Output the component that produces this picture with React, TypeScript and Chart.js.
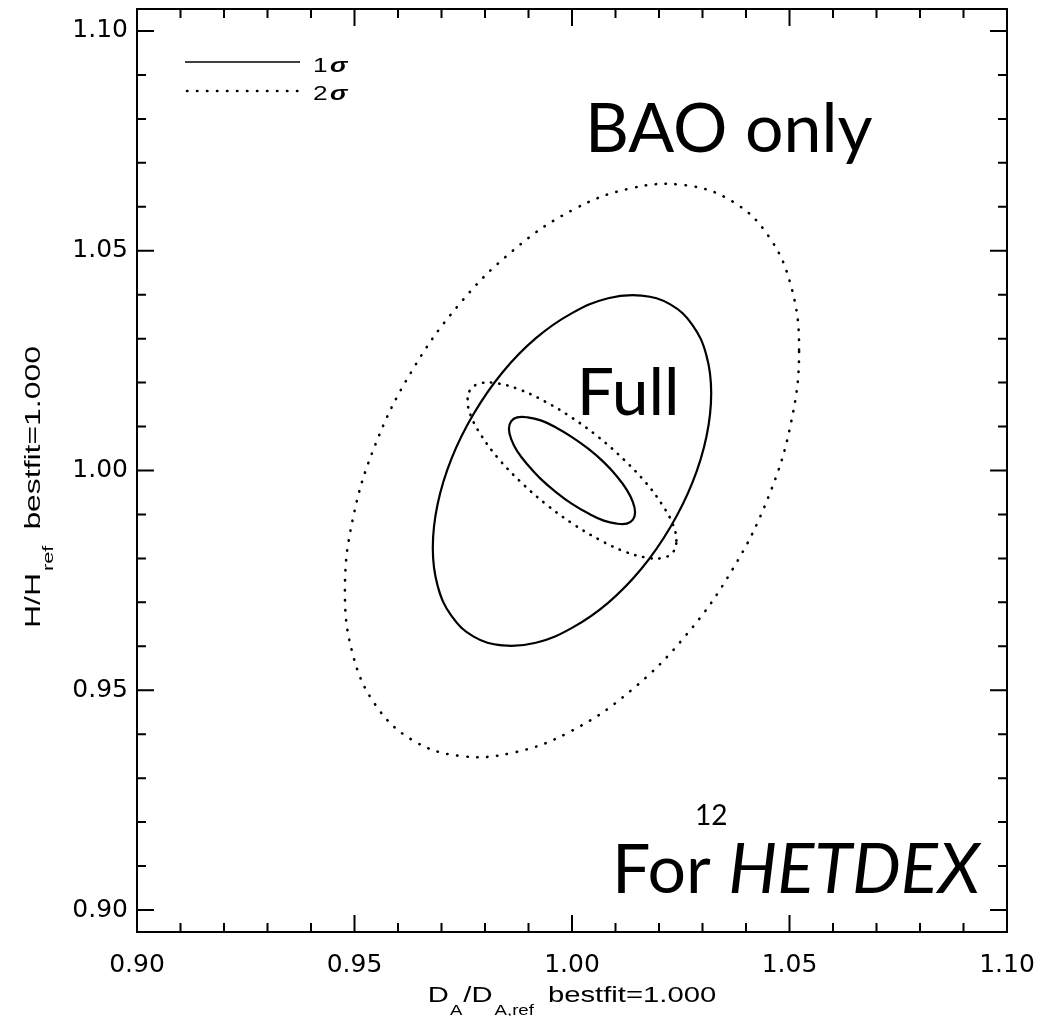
import React, { useEffect, useRef } from "react";
import { Chart, registerables } from "chart.js";

Chart.register(...registerables);

// ---- axes ----
const xRange = [0.9, 1.1];
const yRange = [0.895, 1.105];
const xTickValues = [0.9, 0.95, 1.0, 1.05, 1.1];
const yTickValues = [0.9, 0.95, 1.0, 1.05, 1.1];
const xMinorTickValues = [0.9, 0.91, 0.92, 0.93, 0.94, 0.95, 0.96, 0.97, 0.98, 0.99, 1.0, 1.01, 1.02, 1.03, 1.04, 1.05, 1.06, 1.07, 1.08, 1.09, 1.1];
const yMinorTickValues = [0.9, 0.91, 0.92, 0.93, 0.94, 0.95, 0.96, 0.97, 0.98, 0.99, 1.0, 1.01, 1.02, 1.03, 1.04, 1.05, 1.06, 1.07, 1.08, 1.09, 1.1];

// ---- contours (each is a closed loop) ----
// BAO only, 2 sigma (dotted)
const baoTwoSigmaX = [1.0522, 1.0504, 1.0452, 1.0369, 1.0261, 1.0135, 1.0000, 0.9865, 0.9739, 0.9631, 0.9548, 0.9496, 0.9478, 0.9496, 0.9548, 0.9631, 0.9739, 0.9865, 1.0000, 1.0135, 1.0261, 1.0369, 1.0452, 1.0504];
const baoTwoSigmaY = [1.0274, 1.0418, 1.0533, 1.0612, 1.0649, 1.0642, 1.0592, 1.0501, 1.0376, 1.0225, 1.0059, 0.9889, 0.9726, 0.9582, 0.9467, 0.9388, 0.9351, 0.9358, 0.9408, 0.9499, 0.9624, 0.9775, 0.9941, 1.0111];
// BAO only, 1 sigma (solid)
const baoOneSigmaX = [1.0320, 1.0309, 1.0277, 1.0226, 1.0160, 1.0083, 1.0000, 0.9917, 0.9840, 0.9774, 0.9723, 0.9691, 0.9680, 0.9691, 0.9723, 0.9774, 0.9840, 0.9917, 1.0000, 1.0083, 1.0160, 1.0226, 1.0277, 1.0309];
const baoOneSigmaY = [1.0176, 1.0262, 1.0331, 1.0378, 1.0398, 1.0392, 1.0358, 1.0301, 1.0223, 1.0129, 1.0027, 0.9923, 0.9824, 0.9738, 0.9669, 0.9622, 0.9602, 0.9608, 0.9642, 0.9699, 0.9777, 0.9871, 0.9973, 1.0077];
// Full, 2 sigma (dotted)
const fullTwoSigmaX = [1.0240, 1.0232, 1.0208, 1.0170, 1.0120, 1.0062, 1.0000, 0.9938, 0.9880, 0.9830, 0.9792, 0.9768, 0.9760, 0.9768, 0.9792, 0.9830, 0.9880, 0.9938, 1.0000, 1.0062, 1.0120, 1.0170, 1.0208, 1.0232];
const fullTwoSigmaY = [0.9840, 0.9877, 0.9921, 0.9972, 1.0024, 1.0075, 1.0120, 1.0157, 1.0184, 1.0198, 1.0199, 1.0186, 1.0160, 1.0123, 1.0079, 1.0028, 0.9976, 0.9925, 0.9880, 0.9843, 0.9816, 0.9802, 0.9801, 0.9814];
// Full, 1 sigma (solid)
const fullOneSigmaX = [1.0145, 1.0140, 1.0126, 1.0103, 1.0073, 1.0038, 1.0000, 0.9963, 0.9928, 0.9898, 0.9874, 0.9860, 0.9855, 0.9860, 0.9874, 0.9898, 0.9928, 0.9963, 1.0000, 1.0038, 1.0073, 1.0103, 1.0126, 1.0140];
const fullOneSigmaY = [0.9905, 0.9928, 0.9956, 0.9987, 1.0019, 1.0049, 1.0076, 1.0098, 1.0114, 1.0121, 1.0121, 1.0112, 1.0095, 1.0072, 1.0044, 1.0013, 0.9981, 0.9951, 0.9924, 0.9902, 0.9886, 0.9879, 0.9879, 0.9888];

// ---- text ----
const legendNumbers = ["1", "2"];
const legendSymbol = "σ";
const labelBao = "BAO only";
const labelFull = "Full";
const labelFor = "For ";
const labelSurvey = "HETDEX";
const labelPage = "12";

type Piece = { text: string; font: string; dy: number };

function drawPieces(ctx: CanvasRenderingContext2D, pieces: Piece[], cx: number, baseY: number, stretch: number, gaps: number[]) {
  let total = 0;
  const widths = pieces.map((p, i) => {
    ctx.font = p.font;
    const w = ctx.measureText(p.text).width * stretch;
    total += w + (gaps[i] || 0);
    return w;
  });
  let x = cx - total / 2;
  pieces.forEach((p, i) => {
    ctx.save();
    ctx.font = p.font;
    ctx.translate(x, baseY + p.dy);
    ctx.scale(stretch, 1);
    ctx.fillText(p.text, 0, 0);
    ctx.restore();
    x += widths[i] + (gaps[i] || 0);
  });
}

// close every contour into a smooth loop
const loopPlugin = {
  id: "closedContours",
  afterDatasetsUpdate(chart: any) {
    chart.data.datasets.forEach((_: any, i: number) => {
      const line = chart.getDatasetMeta(i).dataset;
      if (line) {
        line._loop = true;
        line.points = line.points;
      }
    });
  },
};

const decorPlugin = {
  id: "decor",
  afterDraw(chart: any) {
    const { ctx, chartArea: a, scales } = chart;
    const xs = scales.x;
    const ys = scales.y;
    const isMajor = (v: number, list: number[]) => list.some((m) => Math.abs(m - v) < 1e-6);
    ctx.save();
    ctx.strokeStyle = "#000";
    ctx.fillStyle = "#000";
    ctx.lineWidth = 2;
    ctx.strokeRect(a.left, a.top, a.right - a.left, a.bottom - a.top);
    ctx.beginPath();
    for (const v of xMinorTickValues) {
      const p = xs.getPixelForValue(v);
      const len = isMajor(v, xTickValues) ? 17 : 9;
      ctx.moveTo(p, a.bottom);
      ctx.lineTo(p, a.bottom - len);
      ctx.moveTo(p, a.top);
      ctx.lineTo(p, a.top + len);
    }
    for (const v of yMinorTickValues) {
      const p = ys.getPixelForValue(v);
      const len = isMajor(v, yTickValues) ? 17 : 9;
      ctx.moveTo(a.left, p);
      ctx.lineTo(a.left + len, p);
      ctx.moveTo(a.right, p);
      ctx.lineTo(a.right - len, p);
    }
    ctx.stroke();

    // legend
    const lx0 = a.left + 48;
    const lx1 = a.left + 163;
    ctx.lineWidth = 1.3;
    ctx.beginPath();
    ctx.moveTo(lx0, a.top + 53);
    ctx.lineTo(lx1, a.top + 53);
    ctx.stroke();
    ctx.save();
    ctx.lineWidth = 2.6;
    ctx.lineCap = "round";
    ctx.setLineDash([0.4, 9.6]);
    ctx.beginPath();
    ctx.moveTo(lx0 + 2, a.top + 82);
    ctx.lineTo(lx1, a.top + 82);
    ctx.stroke();
    ctx.restore();
    ctx.textAlign = "left";
    ctx.textBaseline = "alphabetic";
    legendNumbers.forEach((n, i) => {
      const by = a.top + 63 + i * 28;
      ctx.save();
      ctx.translate(a.left + 176, by);
      ctx.scale(1.25, 1);
      ctx.font = '21px "Liberation Sans"';
      ctx.fillText(n, 0, 0);
      const w = ctx.measureText(n).width;
      ctx.font = 'italic bold 21px "Liberation Sans"';
      ctx.fillText(legendSymbol, w + 2, 0);
      ctx.restore();
    });

    // annotations
    ctx.font = "68px Lato";
    ctx.fillText(labelBao, xs.getPixelForValue(1.003), ys.getPixelForValue(1.0725));
    ctx.font = "66px Lato";
    ctx.fillText(labelFull, xs.getPixelForValue(1.0011), ys.getPixelForValue(1.0126));
    const fx = xs.getPixelForValue(1.0092);
    const fy = ys.getPixelForValue(0.9039);
    ctx.font = "68px Lato";
    ctx.fillText(labelFor, fx, fy);
    const fw = ctx.measureText(labelFor).width;
    ctx.font = "italic 69px Lato";
    ctx.fillText(labelSurvey, fx + fw, fy);
    ctx.font = "28px Lato";
    ctx.textAlign = "center";
    ctx.fillText(labelPage, xs.getPixelForValue(1.032), ys.getPixelForValue(0.9193));
    ctx.textAlign = "left";

    // x axis title
    const main = '22px "Liberation Sans"';
    const sub = '14px "Liberation Sans"';
    drawPieces(
      ctx,
      [
        { text: "D", font: main, dy: 0 },
        { text: "A", font: sub, dy: 13 },
        { text: "/D", font: main, dy: 0 },
        { text: "A,ref", font: sub, dy: 13 },
        { text: "bestfit=1.000", font: main, dy: 0 },
      ],
      (a.left + a.right) / 2,
      1002,
      1.33,
      [1, 1, 2, 14, 0]
    );
    // y axis title
    ctx.save();
    ctx.translate(40, 487);
    ctx.rotate(-Math.PI / 2);
    drawPieces(
      ctx,
      [
        { text: "H/H", font: '22px "Liberation Sans"', dy: 0 },
        { text: "ref", font: '15px "Liberation Sans"', dy: 13 },
        { text: "bestfit=1.000", font: main, dy: 0 },
      ],
      0,
      0,
      1.45,
      [2, 16, 0]
    );
    ctx.restore();
    ctx.restore();
  },
};

function contour(xsArr: number[], ysArr: number[], dotted: boolean, gap: number) {
  return {
    data: xsArr.map((x, i) => ({ x, y: ysArr[i] })),
    showLine: true,
    spanGaps: true,
    borderColor: "#000",
    backgroundColor: "#000",
    borderWidth: dotted ? 2.6 : 2.2,
    borderDash: dotted ? [0.4, gap] : [],
    borderCapStyle: dotted ? "round" : "butt",
    borderJoinStyle: "round",
    pointRadius: 0,
    tension: 0.4,
    fill: false,
  };
}

export default function App() {
  const ref = useRef<HTMLCanvasElement | null>(null);
  useEffect(() => {
    if (!ref.current) return;
    const tickFont = { family: '"DejaVu Sans"', size: 25 };
    const chart = new Chart(ref.current, {
      type: "scatter",
      data: {
        datasets: [
          contour(baoTwoSigmaX, baoTwoSigmaY, true, 9.6),
          contour(baoOneSigmaX, baoOneSigmaY, false, 0),
          contour(fullTwoSigmaX, fullTwoSigmaY, true, 7.8),
          contour(fullOneSigmaX, fullOneSigmaY, false, 0),
        ] as any,
      },
      options: {
        responsive: false,
        animation: false,
        layout: { padding: { left: 0, top: 9, right: 48, bottom: 0 } },
        plugins: { legend: { display: false }, tooltip: { enabled: false } },
        scales: {
          x: {
            type: "linear",
            position: "bottom",
            min: xRange[0],
            max: xRange[1],
            grid: { display: false, drawTicks: false },
            border: { display: false },
            ticks: {
              color: "#000",
              font: tickFont,
              padding: 18,
              maxRotation: 0,
              callback: (v: any) => Number(v).toFixed(2),
            },
            afterBuildTicks: (s: any) => {
              s.ticks = xTickValues.map((v) => ({ value: v }));
            },
            afterFit: (s: any) => {
              s.height = 84;
              s.paddingLeft = 0;
              s.paddingRight = 0;
            },
          },
          y: {
            type: "linear",
            min: yRange[0],
            max: yRange[1],
            grid: { display: false, drawTicks: false },
            border: { display: false },
            ticks: {
              color: "#000",
              font: tickFont,
              padding: 9,
              callback: (v: any) => Number(v).toFixed(2),
            },
            afterBuildTicks: (s: any) => {
              s.ticks = yTickValues.map((v) => ({ value: v }));
            },
            afterFit: (s: any) => {
              s.width = 137;
              s.paddingTop = 0;
              s.paddingBottom = 0;
            },
          },
        },
      } as any,
      plugins: [loopPlugin, decorPlugin],
    });
    return () => chart.destroy();
  }, []);
  return (
    <div style={{ position: "absolute", left: 0, top: 0, width: 1055, height: 1016, background: "#fff" }}>
      <canvas ref={ref} width={1055} height={1016} style={{ display: "block", width: 1055, height: 1016 }} />
    </div>
  );
}
